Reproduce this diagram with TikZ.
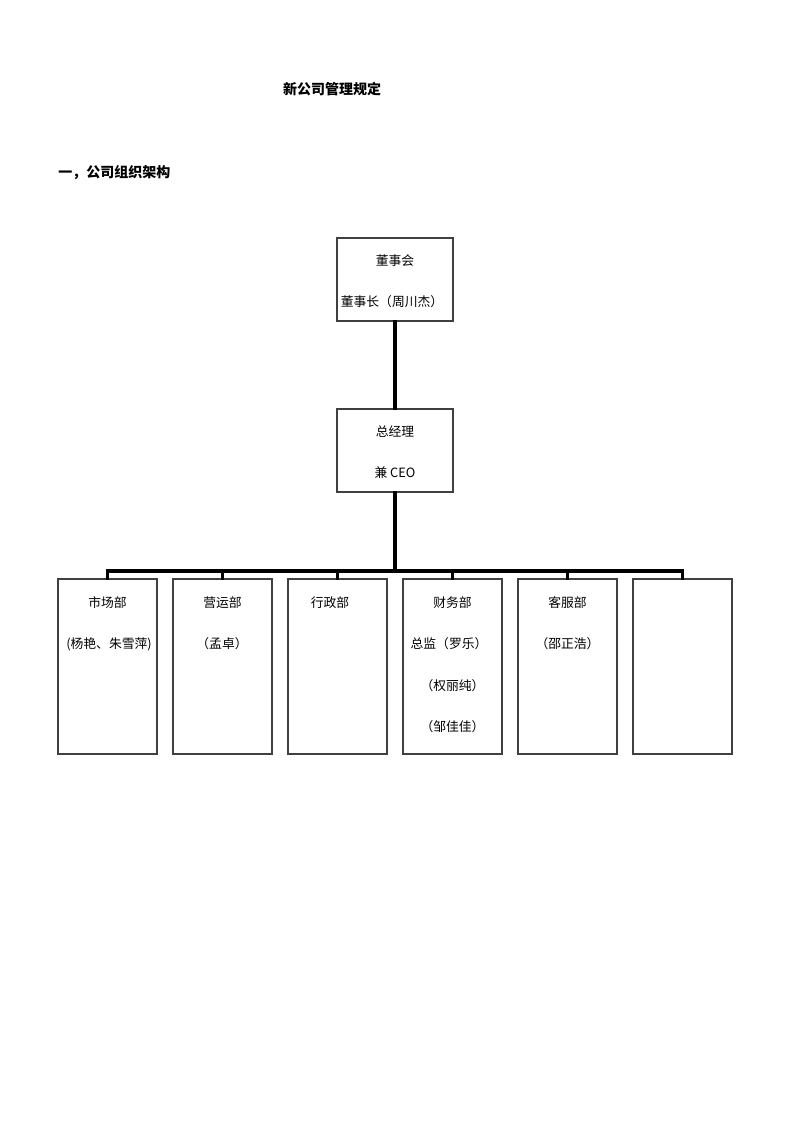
\documentclass[tikz,border=0pt]{standalone}
\usepackage{fontspec}
\setmainfont{Noto Sans CJK SC}
\begin{document}
\begin{tikzpicture}[x=0.75pt,y=-0.75pt,
  box/.style={draw=black!75,line width=0.8pt,minimum width=87pt,minimum height=62.25pt,inner sep=0pt},
  dept/.style={draw=black!75,line width=0.8pt,minimum width=74.25pt,minimum height=131.25pt,inner sep=0pt},
  txt/.style={inner sep=0pt,font=\fontsize{9.6}{11}\selectfont},
  heading/.style={inner sep=0pt,font=\fontsize{10.5}{12}\selectfont\bfseries},
  conn/.style={line width=2.4pt,line join=miter,line cap=rect}]
\useasboundingbox (0,0) rectangle (800,1131);
\node[heading] (title) at (332,89) {新公司管理规定};
\node[heading,anchor=west] (sec) at (58,173) {一，公司组织架构};
% top boxes
\node[box] (board) at (395,279.5) {};
\node[txt] (boardA) at (395,261) {董事会};
\node[txt] (boardB) at (392,302) {董事长（周川杰）};
\node[box] (gm) at (395,450.5) {};
\node[txt] (gmA) at (395,432) {总经理};
\node[txt] (gmB) at (395,473) {兼 CEO};
% departments
\node[dept] (d1) at (107.5,666.5) {};
\node[dept] (d2) at (222.5,666.5) {};
\node[dept] (d3) at (337.5,666.5) {};
\node[dept] (d4) at (452.5,666.5) {};
\node[dept] (d5) at (567.5,666.5) {};
\node[dept] (d6) at (682.5,666.5) {};
\node[txt] (d1a) at (107.5,603) {市场部};
\node[txt] (d1b) at (109,644) {(杨艳、朱雪萍)};
\node[txt] (d2a) at (222.5,603) {营运部};
\node[txt] (d2b) at (222,644) {（孟卓）};
\node[txt] (d3a) at (330,603) {行政部};
\node[txt] (d4a) at (452.5,603) {财务部};
\node[txt] (d4b) at (449,644) {总监（罗乐）};
\node[txt] (d4c) at (452.5,686) {（权丽纯）};
\node[txt] (d4d) at (452.5,727) {（邹佳佳）};
\node[txt] (d5a) at (567.5,603) {客服部};
\node[txt] (d5b) at (567.5,644) {（邵正浩）};
% connectors
\coordinate (busy) at (0,571);
\draw[conn] (board.south) -- (gm.north);
\draw[conn] (gm.south) -- (gm.south |- busy);
\draw[conn] (d1.north) -- (d1.north |- busy) -- (d6.north |- busy) -- (d6.north);
\draw[conn] (d2.north) -- (d2.north |- busy);
\draw[conn] (d3.north) -- (d3.north |- busy);
\draw[conn] (d4.north) -- (d4.north |- busy);
\draw[conn] (d5.north) -- (d5.north |- busy);
\end{tikzpicture}
\end{document}
